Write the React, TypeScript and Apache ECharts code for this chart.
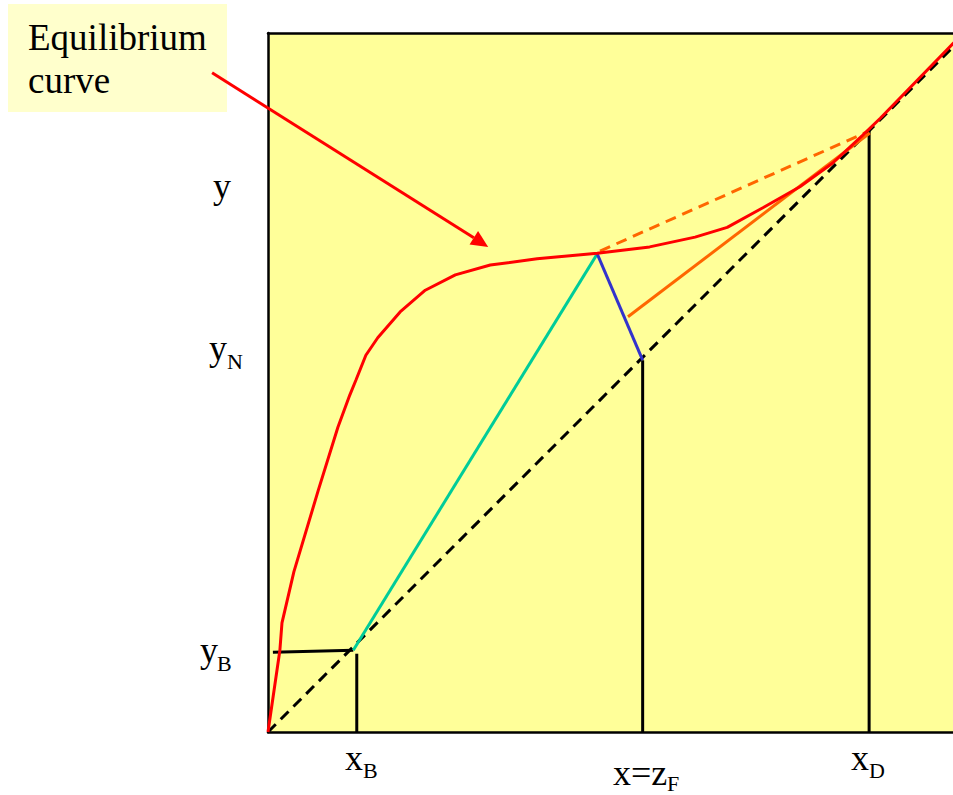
import React, { useEffect, useRef } from "react";
import * as echarts from "echarts";

// Equilibrium curve (vapour fraction y against liquid fraction x)
const eqX = [0, 0.017, 0.02, 0.037, 0.072, 0.1, 0.117, 0.126, 0.14, 0.157, 0.189, 0.225, 0.268, 0.318, 0.385, 0.471, 0.546, 0.611, 0.657, 0.708, 0.761, 0.808, 0.851, 0.876, 0.98, 1.0];
const eqY = [0, 0.117, 0.156, 0.229, 0.346, 0.436, 0.482, 0.504, 0.539, 0.564, 0.601, 0.632, 0.654, 0.668, 0.677, 0.685, 0.694, 0.708, 0.722, 0.75, 0.78, 0.814, 0.854, 0.878, 0.985, 1.004];

// 45-degree line
const diagX = [0, 1];
const diagY = [0, 1];

// Bottom stage step
const stepX = [0.007, 0.122];
const stepY = [0.114, 0.117];

// Stripping operating line
const stripX = [0.122, 0.471];
const stripY = [0.117, 0.684];

// Feed (q) line
const feedX = [0.471, 0.536];
const feedY = [0.684, 0.532];

// Rectifying operating line (solid) and minimum-reflux line (dashed)
const rectX = [0.515, 0.861];
const rectY = [0.594, 0.857];
const minRefX = [0.475, 0.856];
const minRefY = [0.688, 0.858];

// Composition drop lines: x_B, z_F, x_D
const dropX = [0.127, 0.536, 0.86];
const dropTop = [0.112, 0.532, 0.86];

// Annotation arrow (tail, head) in data units
const arrowX = [-0.08, 0.315];
const arrowY = [0.943, 0.694];

// Visible part of the x range (the square diagram runs past the right edge)
const X_VISIBLE_MAX = 0.98;

const pairs = (xs: number[], ys: number[]) => xs.map((x, i) => [x, ys[i]]);

const SERIF = "Liberation Serif";

export default function App() {
  const ref = useRef<HTMLDivElement>(null);

  useEffect(() => {
    if (!ref.current) return;
    const chart = echarts.init(ref.current, undefined, { renderer: "svg" });

    const lineSeries = (data: number[][], color: string, width: number, dashed?: number[]) => ({
      type: "line",
      data,
      showSymbol: false,
      symbol: "none",
      smooth: false,
      clip: false,
      lineStyle: { color, width, type: dashed ? dashed : "solid", cap: "butt" },
      z: 3,
    });

    const drops = dropX.map((x, i) =>
      lineSeries([[x, 0], [x, dropTop[i]]], "#000000", 3)
    );

    // Frame: bottom, top and left axis lines only
    const frameAxis = (position: string, max: number) => ({
      type: "value",
      min: 0,
      max,
      position,
      axisLine: { show: true, onZero: false, lineStyle: { color: "#000000", width: 2.5 } },
      axisTick: { show: false },
      axisLabel: { show: false },
      splitLine: { show: false },
    });

    chart.setOption({
      animation: false,
      backgroundColor: "#ffffff",
      grid: {
        show: true,
        left: 268,
        top: 33,
        width: Math.round(699 * X_VISIBLE_MAX),
        height: 699,
        backgroundColor: "#FFFF99",
        borderWidth: 0,
      },
      xAxis: [frameAxis("bottom", X_VISIBLE_MAX), frameAxis("top", X_VISIBLE_MAX)],
      yAxis: [frameAxis("left", 1)],
      series: [
        lineSeries(pairs(diagX, diagY), "#000000", 3, [11, 7]),
        ...drops,
        lineSeries(pairs(stepX, stepY), "#000000", 3),
        lineSeries(pairs(minRefX, minRefY), "#FF6600", 3, [11, 7]),
        lineSeries(pairs(rectX, rectY), "#FF6600", 3),
        lineSeries(pairs(stripX, stripY), "#00CC99", 3),
        lineSeries(pairs(feedX, feedY), "#3333CC", 3),
        lineSeries(pairs(eqX, eqY), "#FF0000", 3),
      ],
    });

    const tail = chart.convertToPixel({ gridIndex: 0 }, [arrowX[0], arrowY[0]]) as number[];
    const head = chart.convertToPixel({ gridIndex: 0 }, [arrowX[1], arrowY[1]]) as number[];
    const ang = Math.atan2(head[1] - tail[1], head[0] - tail[0]);
    const headLen = 17;
    const headHalf = 8;
    const bx = head[0] - headLen * Math.cos(ang);
    const by = head[1] - headLen * Math.sin(ang);
    const px = -Math.sin(ang) * headHalf;
    const py = Math.cos(ang) * headHalf;

    const txt = (text: string, x: number, y: number, size: number) => ({
      type: "text",
      x,
      y,
      z: 10,
      style: {
        text,
        fontFamily: SERIF,
        fontSize: size,
        fill: "#000000",
        align: "left",
        verticalAlign: "middle",
      },
    });

    chart.setOption({
      graphic: [
        {
          type: "rect",
          shape: { x: 8, y: 4, width: 219, height: 108 },
          style: { fill: "#FFFFCC" },
          z: 5,
        },
        txt("Equilibrium", 28, 37, 37),
        txt("curve", 28, 80, 37),
        {
          type: "line",
          shape: { x1: tail[0], y1: tail[1], x2: bx, y2: by },
          style: { stroke: "#FF0000", lineWidth: 3 },
          z: 6,
        },
        {
          type: "polygon",
          shape: {
            points: [
              [head[0], head[1]],
              [bx + px, by + py],
              [bx - px, by - py],
            ],
          },
          style: { fill: "#FF0000" },
          z: 6,
        },
        txt("y", 213, 186, 36),
        txt("y", 209, 348, 36),
        txt("N", 227, 361, 22),
        txt("y", 200, 650, 36),
        txt("B", 217, 663, 22),
        txt("x", 345, 758, 36),
        txt("B", 363, 770, 22),
        txt("x=z", 613, 773, 36),
        txt("F", 667, 783, 22),
        txt("x", 851, 758, 36),
        txt("D", 869, 770, 22),
      ],
    });

    return () => chart.dispose();
  }, []);

  return (
    <div
      ref={ref}
      style={{ position: "fixed", left: 0, top: 0, width: 953, height: 795, background: "#ffffff" }}
    />
  );
}
